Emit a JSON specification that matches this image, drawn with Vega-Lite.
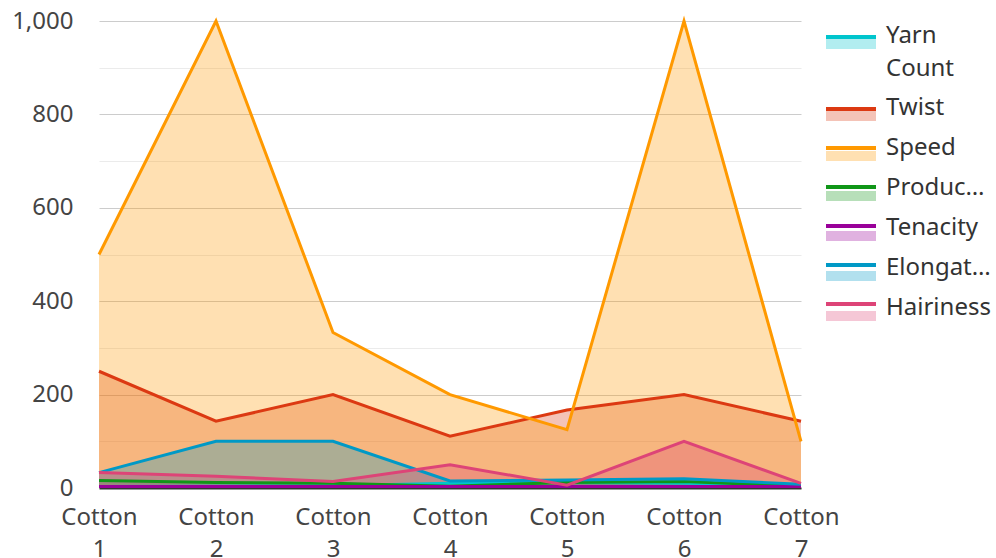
{
  "$schema": "https://vega.github.io/schema/vega-lite/v6.json",
  "width": 702,
  "height": 467,
  "autosize": {"type": "none"},
  "padding": {"left": 99, "top": 21, "right": 195, "bottom": 70},
  "config": {
    "font": "Noto Sans",
    "view": {"stroke": null},
    "axis": {"labelFont": "Noto Sans", "labelFontSize": 24, "labelColor": "#444"},
    "style": {"guide-label": {"lineHeight": 33}}
  },
  "data": {
    "values": [
      {"cotton": "Cotton 1", "metric": "Yarn Count", "value": 3},
      {"cotton": "Cotton 2", "metric": "Yarn Count", "value": 4},
      {"cotton": "Cotton 3", "metric": "Yarn Count", "value": 5},
      {"cotton": "Cotton 4", "metric": "Yarn Count", "value": 10},
      {"cotton": "Cotton 5", "metric": "Yarn Count", "value": 12},
      {"cotton": "Cotton 6", "metric": "Yarn Count", "value": 10},
      {"cotton": "Cotton 7", "metric": "Yarn Count", "value": 6},
      {"cotton": "Cotton 1", "metric": "Twist", "value": 250},
      {"cotton": "Cotton 2", "metric": "Twist", "value": 143},
      {"cotton": "Cotton 3", "metric": "Twist", "value": 200},
      {"cotton": "Cotton 4", "metric": "Twist", "value": 111},
      {"cotton": "Cotton 5", "metric": "Twist", "value": 167},
      {"cotton": "Cotton 6", "metric": "Twist", "value": 200},
      {"cotton": "Cotton 7", "metric": "Twist", "value": 143},
      {"cotton": "Cotton 1", "metric": "Speed", "value": 500},
      {"cotton": "Cotton 2", "metric": "Speed", "value": 1000},
      {"cotton": "Cotton 3", "metric": "Speed", "value": 333},
      {"cotton": "Cotton 4", "metric": "Speed", "value": 200},
      {"cotton": "Cotton 5", "metric": "Speed", "value": 125},
      {"cotton": "Cotton 6", "metric": "Speed", "value": 1000},
      {"cotton": "Cotton 7", "metric": "Speed", "value": 100},
      {"cotton": "Cotton 1", "metric": "Production", "value": 16},
      {"cotton": "Cotton 2", "metric": "Production", "value": 12},
      {"cotton": "Cotton 3", "metric": "Production", "value": 10},
      {"cotton": "Cotton 4", "metric": "Production", "value": 4},
      {"cotton": "Cotton 5", "metric": "Production", "value": 12},
      {"cotton": "Cotton 6", "metric": "Production", "value": 14},
      {"cotton": "Cotton 7", "metric": "Production", "value": 4},
      {"cotton": "Cotton 1", "metric": "Tenacity", "value": 3},
      {"cotton": "Cotton 2", "metric": "Tenacity", "value": 3},
      {"cotton": "Cotton 3", "metric": "Tenacity", "value": 3},
      {"cotton": "Cotton 4", "metric": "Tenacity", "value": 3},
      {"cotton": "Cotton 5", "metric": "Tenacity", "value": 3},
      {"cotton": "Cotton 6", "metric": "Tenacity", "value": 3},
      {"cotton": "Cotton 7", "metric": "Tenacity", "value": 3},
      {"cotton": "Cotton 1", "metric": "Elongation", "value": 33},
      {"cotton": "Cotton 2", "metric": "Elongation", "value": 100},
      {"cotton": "Cotton 3", "metric": "Elongation", "value": 100},
      {"cotton": "Cotton 4", "metric": "Elongation", "value": 15},
      {"cotton": "Cotton 5", "metric": "Elongation", "value": 17},
      {"cotton": "Cotton 6", "metric": "Elongation", "value": 20},
      {"cotton": "Cotton 7", "metric": "Elongation", "value": 8},
      {"cotton": "Cotton 1", "metric": "Hairiness", "value": 33},
      {"cotton": "Cotton 2", "metric": "Hairiness", "value": 25},
      {"cotton": "Cotton 3", "metric": "Hairiness", "value": 14},
      {"cotton": "Cotton 4", "metric": "Hairiness", "value": 50},
      {"cotton": "Cotton 5", "metric": "Hairiness", "value": 6},
      {"cotton": "Cotton 6", "metric": "Hairiness", "value": 100},
      {"cotton": "Cotton 7", "metric": "Hairiness", "value": 10}
    ]
  },
  "encoding": {
    "x": {
      "field": "cotton", "type": "nominal", "sort": null,
      "scale": {"type": "point", "padding": 0},
      "axis": {
        "title": null, "labelAngle": 0, "ticks": false, "grid": false,
        "labelExpr": "split(datum.label, ' ')", "labelLineHeight": 32,
        "labelPadding": 29, "domainColor": "#333", "domainWidth": 2,
        "labelBaseline": "middle"
      }
    },
    "y": {
      "field": "value", "type": "quantitative", "stack": null,
      "scale": {"domain": [0, 1000], "nice": false},
      "axis": {
        "title": null, "domain": false, "ticks": false,
        "values": [0, 100, 200, 300, 400, 500, 600, 700, 800, 900, 1000],
        "labelExpr": "datum.value % 200 == 0 ? datum.label : ''",
        "labelPadding": 26,
        "gridColor": {"condition": {"test": "datum.value % 200 == 0", "value": "#cccccc"}, "value": "#ebebeb"}
      }
    }
  },
  "layer": [
    {
      "mark": {"type": "area", "fillOpacity": 0.3},
      "encoding": {
        "fill": {
          "field": "metric", "type": "nominal", "sort": null,
          "scale": {
            "domain": ["Yarn Count", "Twist", "Speed", "Production", "Tenacity", "Elongation", "Hairiness"],
            "range": ["#00c5cd", "#dc3912", "#ff9900", "#109618", "#990099", "#0099c6", "#dd4477"]
          },
          "legend": {
            "title": null, "orient": "none", "legendX": 740, "legendY": 3, "padding": 0,
            "symbolType": "M-5,0.6H5V2.6H-5Z", "symbolSize": 100, "symbolOpacity": 0.3,
            "symbolStrokeWidth": 0,
            "labelFont": "Noto Sans", "labelFontSize": 24, "labelColor": "#333",
            "labelLimit": 105, "labelOffset": 23, "rowPadding": 15,
            "labelExpr": "datum.label == 'Yarn Count' ? ['Yarn', 'Count'] : datum.label"
          }
        }
      }
    },
    {
      "transform": [{"calculate": "datum.metric + '.'", "as": "series"}],
      "mark": {"type": "line", "strokeWidth": 3},
      "encoding": {
        "stroke": {
          "field": "series", "type": "nominal", "sort": null,
          "scale": {
            "domain": ["Yarn Count.", "Twist.", "Speed.", "Production.", "Tenacity.", "Elongation.", "Hairiness."],
            "range": ["#00c5cd", "#dc3912", "#ff9900", "#109618", "#990099", "#0099c6", "#dd4477"]
          },
          "legend": {
            "title": null, "orient": "none", "legendX": 740, "legendY": 3, "padding": 0,
            "symbolType": "M-5,0.2H5", "symbolSize": 100, "symbolStrokeWidth": 4,
            "labelFont": "Noto Sans", "labelFontSize": 24, "labelColor": "#333", "labelOpacity": 0,
            "labelLimit": 105, "labelOffset": 23, "rowPadding": 15,
            "labelExpr": "datum.label == 'Yarn Count.' ? ['Yarn', 'Count'] : replace(datum.label, '.', '')"
          }
        }
      }
    }
  ]
}
